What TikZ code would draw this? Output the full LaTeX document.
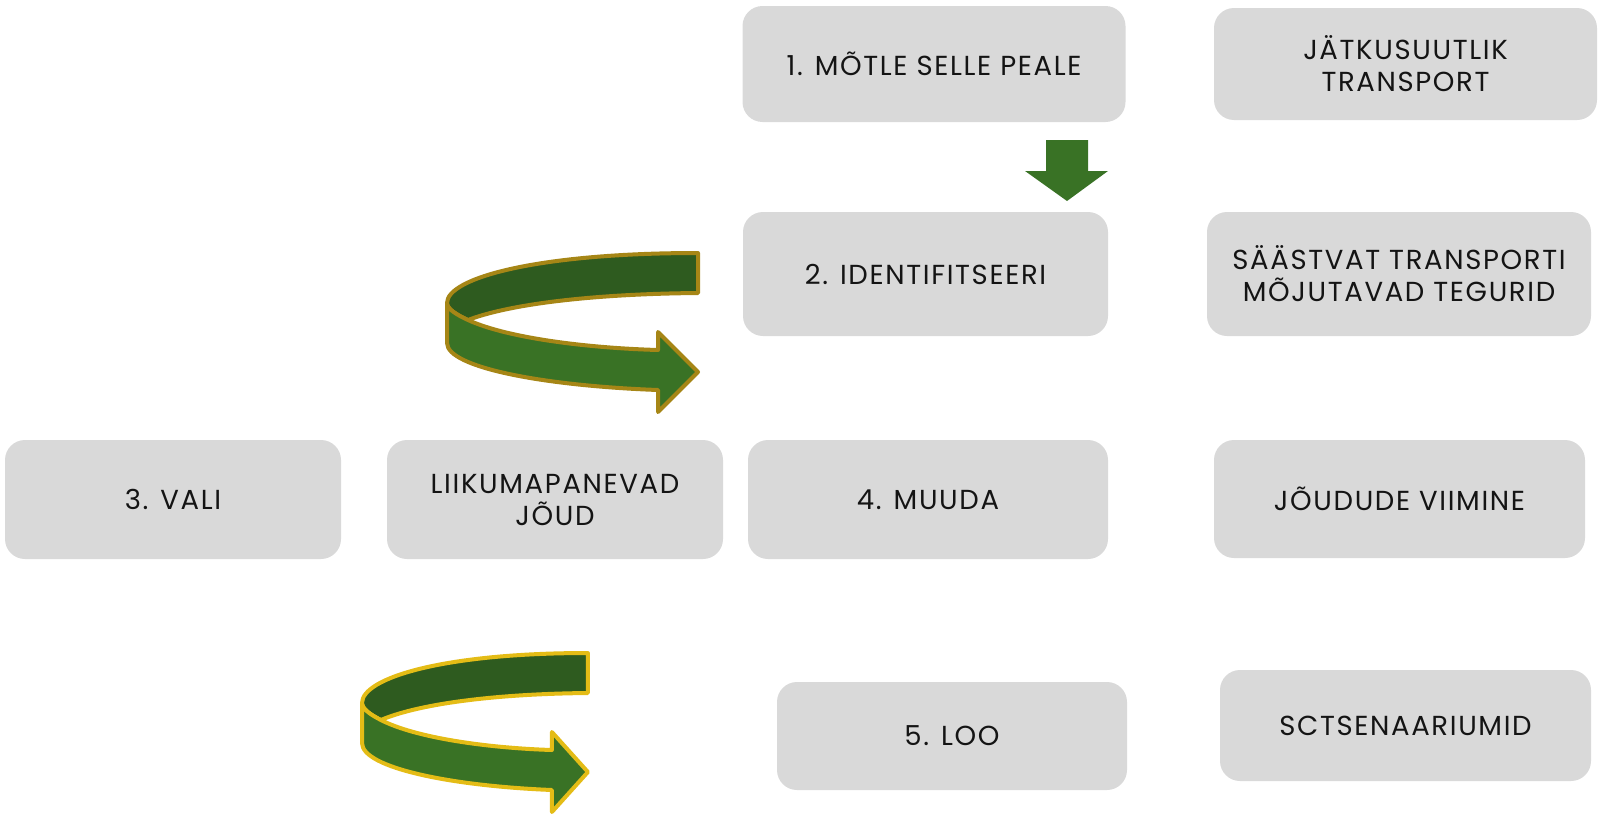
\documentclass[tikz,border=0pt]{standalone}
\usepackage{fontspec}
\setmainfont{Poppins}[LetterSpace=6]
\definecolor{boxgray}{RGB}{217,217,217}
\definecolor{leafgreen}{RGB}{57,114,37}
\definecolor{deepgreen}{RGB}{46,91,31}
\definecolor{darkgold}{RGB}{166,134,22}
\definecolor{brightgold}{RGB}{228,188,22}
\definecolor{inktext}{RGB}{20,20,20}
\tikzset{
  stepbox/.style={fill=boxgray, draw=none, rounded corners=20pt, inner sep=0pt,
    align=center, text=inktext, font=\fontsize{27.5}{32}\selectfont},
  band/.style={line width=4pt, line join=round},
  pics/uturn/.style={code={
    % upper (back) band
    \path[band, fill=deepgreen, draw=#1]
      (251,0) .. controls (90,0) and (0,25) .. (0,50)
      .. controls (0,56) and (10,62) .. (21,67)
      .. controls (60,52) and (140,41) .. (251,40) -- cycle;
    % lower (front) band with the head
    \path[band, fill=leafgreen, draw=#1]
      (0,50) -- (0,90) .. controls (0,115) and (100,133) .. (211,137)
      -- (211,159) -- (251,119) -- (211,79) -- (211,97)
      .. controls (140,95) and (60,85) .. (21,67)
      .. controls (10,62) and (0,56) .. (0,50) -- cycle;
  }}
}
\begin{document}
\begin{tikzpicture}[x=1pt, y=-1pt]
\useasboundingbox (0,0) rectangle (1600,814);

% process steps and their topics
\node[stepbox, minimum width=383pt, minimum height=116pt] (b1) at (934,64) {1. MÕTLE SELLE PEALE};
\node[stepbox, minimum width=383pt, minimum height=112pt] (b2) at (1405.5,64) {JÄTKUSUUTLIK\\TRANSPORT};
\node[stepbox, minimum width=365pt, minimum height=124pt] (b3) at (925.5,274) {2. IDENTIFITSEERI};
\node[stepbox, minimum width=384pt, minimum height=124pt] (b4) at (1399,274) {SÄÄSTVAT TRANSPORTI\\MÕJUTAVAD TEGURID};
\node[stepbox, minimum width=336pt, minimum height=119pt] (b5) at (173,499.5) {3. VALI};
\node[stepbox, minimum width=336pt, minimum height=119pt] (b6) at (555,499.5) {LIIKUMAPANEVAD\\JÕUD};
\node[stepbox, minimum width=360pt, minimum height=119pt] (b7) at (928,499.5) {4. MUUDA};
\node[stepbox, minimum width=371pt, minimum height=118pt] (b8) at (1399.5,499) {JÕUDUDE VIIMINE};
\node[stepbox, minimum width=350pt, minimum height=108pt] (b9) at (952,736) {5. LOO};
\node[stepbox, minimum width=371pt, minimum height=111pt] (b10) at (1405.5,725.5) {SCTSENAARIUMID};

% down arrow
\fill[leafgreen] (1046,140) -- (1088,140) -- (1088,171) -- (1108,171)
  -- (1067,201) -- (1025,171) -- (1046,171) -- cycle;

% u-turn arrows
\pic at (447,253) {uturn=darkgold};
\pic[xscale=0.9] at (362,653) {uturn=brightgold};
\end{tikzpicture}
\end{document}
